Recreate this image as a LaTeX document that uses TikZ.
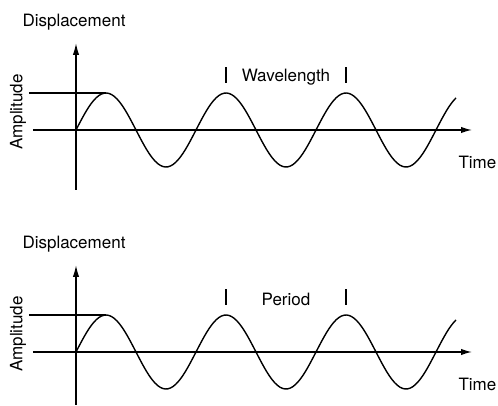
\documentclass[tikz,border=0pt]{standalone}
\usepackage{fontspec}
\setmainfont{TeX Gyre Heros}
\usetikzlibrary{arrows.meta}
\begin{document}
\begin{tikzpicture}[x=5pt,y=5pt,line width=0.7pt,
  lbl/.style={font=\fontsize{8.5}{10}\selectfont,inner sep=0pt}]
  \useasboundingbox (-7.6,13) rectangle (42.2,-27.6);
  \foreach \off/\word/\low in {0/Wavelength/-6,-22.2/Period/-5.3} {
    \begin{scope}[shift={(0,\off)}]
      % axes
      \draw[-{Latex[length=6pt,width=3.2pt]}] (0,\low) -- (0,8.7);
      \draw[-{Latex[length=5.5pt,width=3.2pt]}] (-4.3,0) -- (39.6,0);
      \draw (-4.7,3.7) -- (3,3.7);
      % wave
      \draw[smooth] plot[domain=0:38,samples=150] (\x,{3.7*sin(30*\x)});
      % marks
      \draw (15,4.7) -- (15,6.3);
      \draw (27,4.7) -- (27,6.3);
      \node[lbl] (disp-\word) at (-0.2,10.8) {Displacement};
      \node[lbl,rotate=90] (amp-\word) at (-5.8,1.8) {Amplitude};
      \node[lbl] (mark-\word) at (21,5.3) {\word};
      \node[lbl,anchor=east] (time-\word) at (42.1,-3.2) {Time};
    \end{scope}
  }
\end{tikzpicture}
\end{document}
